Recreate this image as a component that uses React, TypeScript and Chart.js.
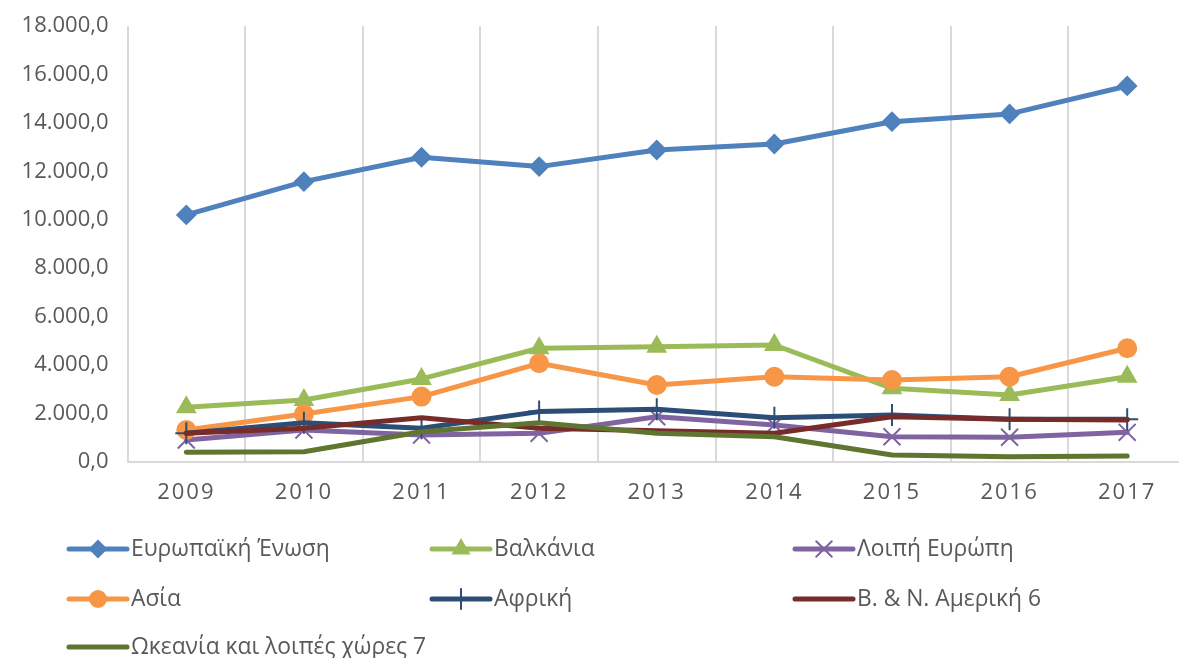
import React, { useEffect, useRef } from 'react';
import { Chart, registerables, CategoryScale } from 'chart.js';
import { drawPoint } from 'chart.js/helpers';

Chart.register(...registerables);

class SpacedCategoryScale extends CategoryScale {
  static id = 'spacedCategory';
  static defaults = CategoryScale.defaults;
  drawLabels(chartArea: any) {
    const ctx = this.ctx as any;
    const prev = ctx.letterSpacing;
    ctx.letterSpacing = '2px';
    super.drawLabels(chartArea);
    ctx.letterSpacing = prev || '0px';
  }
}
Chart.register(SpacedCategoryScale as any);

const years = ['2009', '2010', '2011', '2012', '2013', '2014', '2015', '2016', '2017'];
const euValues = [10200, 11575, 12580, 12195, 12880, 13130, 14050, 14370, 15525];
const balkansValues = [2260, 2560, 3430, 4695, 4760, 4830, 3040, 2765, 3520];
const otherEuropeValues = [910, 1320, 1115, 1185, 1870, 1530, 1045, 1020, 1225];
const asiaValues = [1320, 1980, 2700, 4075, 3180, 3520, 3385, 3520, 4695];
const africaValues = [1185, 1625, 1390, 2080, 2175, 1830, 1940, 1760, 1760];
const americasValues = [1185, 1390, 1830, 1390, 1295, 1185, 1870, 1760, 1735];
const oceaniaValues = [400, 425, 1250, 1625, 1185, 1045, 290, 220, 250];

const seriesNames = [
  'Ευρωπαϊκή Ένωση',
  'Βαλκάνια',
  'Λοιπή Ευρώπη',
  'Ασία',
  'Αφρική',
  'Β. & Ν. Αμερική 6',
  'Ωκεανία και λοιπές χώρες 7',
];
const seriesValues = [euValues, balkansValues, otherEuropeValues, asiaValues, africaValues, americasValues, oceaniaValues];
const seriesColors = ['#4F81BD', '#9BBB59', '#8064A2', '#F79646', '#2C4D75', '#772C2A', '#5F7530'];
const seriesMarkers: (string | false)[] = ['rectRot', 'triangle', 'crossRot', 'circle', 'cross', false, false];
const markerRadius = [9, 10, 12, 9, 11, 0, 0];

const yMin = 0;
const yMax = 18000;
const yStep = 2000;

const TEXT = '#595959';
const FONT = "'Open Sans', 'DejaVu Sans', sans-serif";

function fmtGreek(v: number): string {
  const s = Math.round(v).toString().replace(/\B(?=(\d{3})+(?!\d))/g, '.');
  return s + ',0';
}

const legendPlugin = {
  id: 'gridLegend',
  afterDraw(chart: any) {
    const ctx = chart.ctx as CanvasRenderingContext2D;
    const colX = [69, 432, 795];
    const rowY = [549, 599, 647];
    chart.data.datasets.forEach((ds: any, i: number) => {
      ctx.save();
      const x0 = colX[i % 3];
      const y = rowY[Math.floor(i / 3)];
      ctx.strokeStyle = ds.borderColor;
      ctx.lineWidth = 5;
      ctx.lineCap = 'round';
      ctx.beginPath();
      ctx.moveTo(x0, y);
      ctx.lineTo(x0 + 58, y);
      ctx.stroke();
      const style = seriesMarkers[i];
      if (style) {
        ctx.fillStyle = ds.borderColor;
        ctx.strokeStyle = ds.borderColor;
        ctx.lineWidth = 2;
        drawPoint(ctx, { pointStyle: style, radius: markerRadius[i] - 1, rotation: 0, borderWidth: 2 } as any, x0 + 29, y);
      }
      ctx.fillStyle = TEXT;
      ctx.font = `24px ${FONT}`;
      ctx.textAlign = 'left';
      ctx.textBaseline = 'middle';
      ctx.translate(x0 + 62, y);
      ctx.scale(0.95, 1);
      ctx.fillText(ds.label, 0, 0);
      ctx.restore();
    });
  },
};

export default function App() {
  const canvasRef = useRef<HTMLCanvasElement | null>(null);

  useEffect(() => {
    if (!canvasRef.current) return;
    const datasets = seriesNames.map((name, i) => ({
      label: name,
      data: seriesValues[i],
      borderColor: seriesColors[i],
      backgroundColor: seriesColors[i],
      borderWidth: 5,
      pointStyle: seriesMarkers[i] || 'circle',
      pointRadius: markerRadius[i],
      pointBorderWidth: 2,
      pointBackgroundColor: seriesColors[i],
      pointBorderColor: seriesColors[i],
      tension: 0,
      order: seriesNames.length - i,
      borderCapStyle: 'round' as const,
      borderJoinStyle: 'round' as const,
    }));
    const chart = new Chart(canvasRef.current, {
      type: 'line',
      data: { labels: years, datasets },
      options: {
        animation: false,
        responsive: false,
        devicePixelRatio: 1,
        layout: { padding: { top: 26, right: 10.5, bottom: 146, left: 0 } },
        plugins: { legend: { display: false }, tooltip: { enabled: false } },
        scales: {
          x: {
            type: 'spacedCategory' as any,
            offset: true,
            grid: { offset: true, color: '#D9D9D9', lineWidth: 2, drawTicks: false },
            border: { display: true, color: '#D9D9D9', width: 2 },
            ticks: { color: TEXT, font: { family: FONT, size: 22 }, padding: 18, maxRotation: 0, autoSkip: false },
            afterFit: (s: any) => { s.height = 50; },
          },
          y: {
            min: yMin,
            max: yMax,
            grid: { display: false, drawTicks: false },
            border: { display: false },
            ticks: {
              stepSize: yStep,
              color: TEXT,
              font: { family: FONT, size: 22 },
              padding: 19,
              callback: (v: any) => fmtGreek(Number(v)),
            },
            afterFit: (s: any) => { s.width = 127.5; s.paddingTop = 0; s.paddingBottom = 0; },
          },
        },
      },
      plugins: [legendPlugin],
    });
    return () => chart.destroy();
  }, []);

  return (
    <div style={{ position: 'fixed', left: 0, top: 0, width: 1179, height: 658, overflow: 'hidden', background: '#fff' }}>
      <canvas ref={canvasRef} width={1200} height={658} style={{ width: 1200, height: 658, display: 'block' }} />
    </div>
  );
}
